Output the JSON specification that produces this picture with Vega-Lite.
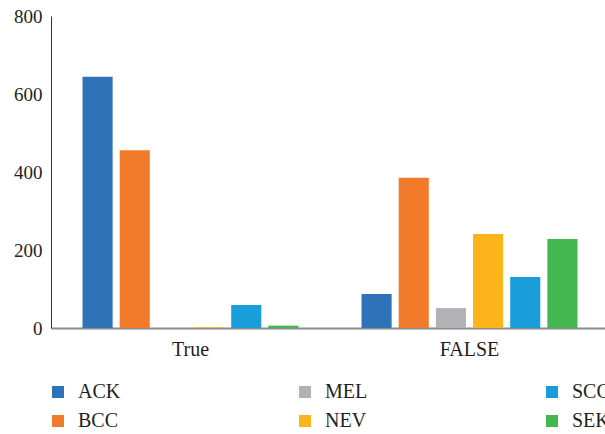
{
  "$schema": "https://vega.github.io/schema/vega-lite/v6.json",
  "autosize": {"type": "none"},
  "padding": {"left": 51, "top": 16, "right": 0, "bottom": 106},
  "width": 558,
  "height": 312,
  "background": "white",
  "data": {
    "values": [
      {"group": "True", "type": "ACK", "count": 644},
      {"group": "True", "type": "BCC", "count": 456},
      {"group": "True", "type": "MEL", "count": 0},
      {"group": "True", "type": "NEV", "count": 2},
      {"group": "True", "type": "SCC", "count": 59},
      {"group": "True", "type": "SEK", "count": 6},
      {"group": "FALSE", "type": "ACK", "count": 87},
      {"group": "FALSE", "type": "BCC", "count": 385},
      {"group": "FALSE", "type": "MEL", "count": 51},
      {"group": "FALSE", "type": "NEV", "count": 241},
      {"group": "FALSE", "type": "SCC", "count": 131},
      {"group": "FALSE", "type": "SEK", "count": 228}
    ]
  },
  "config": {
    "view": {"stroke": null},
    "font": "Liberation Serif",
    "axis": {"labelFont": "Liberation Serif", "labelColor": "#231f20", "grid": false, "ticks": false, "title": null},
    "legend": {"labelFont": "Liberation Serif"}
  },
  "mark": {"type": "bar"},
  "encoding": {
    "x": {
      "field": "group",
      "type": "nominal",
      "sort": ["True", "FALSE"],
      "scale": {"paddingInner": 0.226, "paddingOuter": 0.113},
      "axis": {"labelAngle": 0, "labelFontSize": 20, "domainColor": "#8a8a8a", "domainWidth": 2, "labelPadding": 11}
    },
    "xOffset": {
      "field": "type",
      "type": "nominal",
      "sort": ["ACK", "BCC", "MEL", "NEV", "SCC", "SEK"],
      "scale": {"paddingInner": 0.19, "paddingOuter": 0}
    },
    "y": {
      "field": "count",
      "type": "quantitative",
      "scale": {"domain": [0, 800]},
      "axis": {"values": [0, 200, 400, 600, 800], "labelFontSize": 19, "domainColor": "#333333", "domainWidth": 1, "labelPadding": 9}
    },
    "color": {
      "field": "type",
      "type": "nominal",
      "scale": {
        "domain": ["ACK", "BCC", "MEL", "NEV", "SCC", "SEK"],
        "range": ["#2e72b8", "#f27b2b", "#b1b2b5", "#fbb41a", "#1a9ed9", "#45b750"]
      },
      "legend": {
        "orient": "none",
        "legendX": -3,
        "legendY": 366,
        "direction": "horizontal",
        "columns": 3,
        "values": ["ACK", "MEL", "SCC", "BCC", "NEV", "SEK"],
        "title": null,
        "symbolType": "square",
        "symbolSize": 144,
        "symbolStrokeWidth": 0,
        "labelFontSize": 20,
        "labelColor": "#231f20",
        "labelOffset": 10,
        "gridAlign": "all",
        "columnPadding": 174,
        "rowPadding": 9
      }
    }
  }
}
